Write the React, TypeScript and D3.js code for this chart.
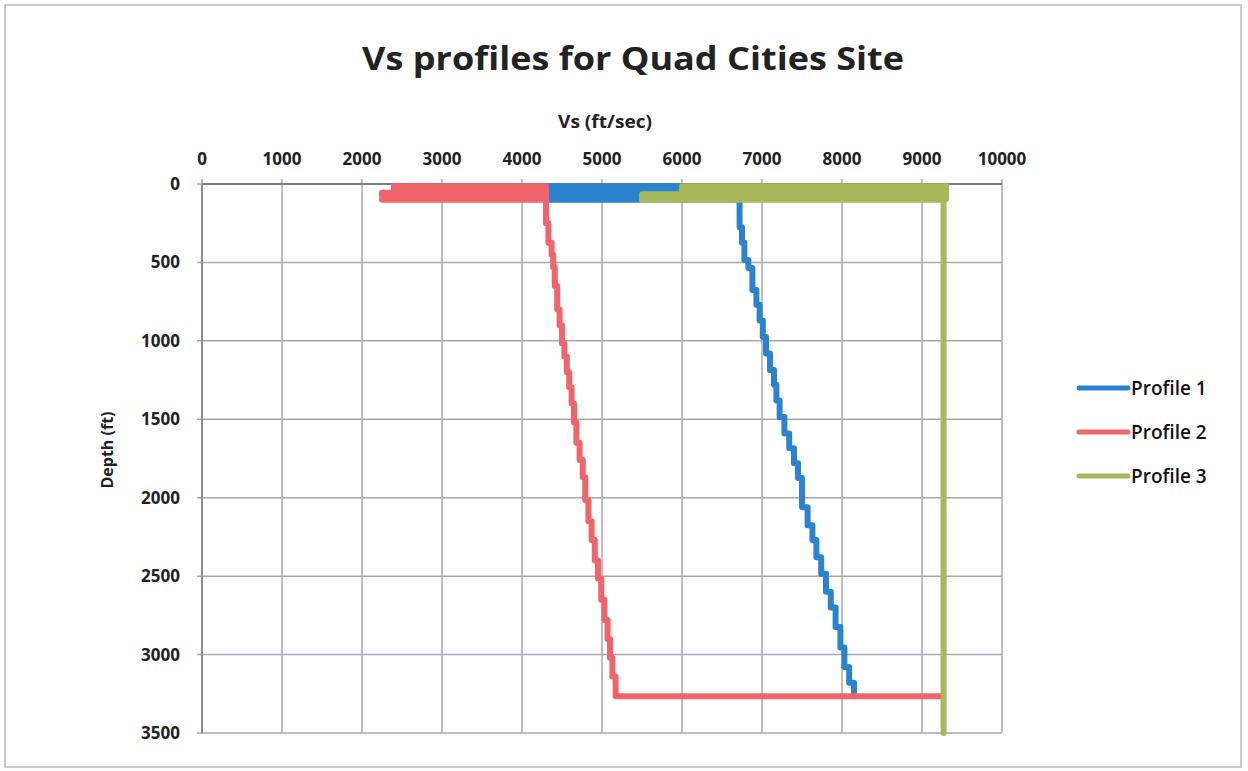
import React from "react";
import * as d3 from "d3";

const xTicks = [0, 1000, 2000, 3000, 4000, 5000, 6000, 7000, 8000, 9000, 10000];
const yTicks = [0, 500, 1000, 1500, 2000, 2500, 3000, 3500];
const seriesNames = ["Profile 1", "Profile 2", "Profile 3"];
const seriesColors = ["#2b83cf", "#f2646b", "#a8b85a"];

// [depth (ft), Vs (ft/sec)] vertices of each step profile
const profile1: [number, number][] = [
  [15, 6050], [15, 4300], [35, 4300], [35, 6050], [55, 6050], [55, 4300],
  [75, 4300], [75, 5500], [95, 5500], [95, 4300], [100, 4300], [100, 6720],
  [275, 6720], [275, 6750], [375, 6750], [375, 6780], [485, 6780], [485, 6830],
  [535, 6830], [535, 6880], [675, 6880], [675, 6930], [770, 6930], [770, 6970],
  [870, 6970], [870, 7010], [975, 7010], [975, 7050], [1080, 7050], [1080, 7100],
  [1185, 7100], [1185, 7150], [1280, 7150], [1280, 7180], [1380, 7180], [1380, 7220],
  [1485, 7220], [1485, 7280], [1590, 7280], [1590, 7340], [1685, 7340], [1685, 7400],
  [1780, 7400], [1780, 7450], [1875, 7450], [1875, 7500], [2060, 7500], [2060, 7570],
  [2175, 7570], [2175, 7630], [2270, 7630], [2270, 7680], [2380, 7680], [2380, 7740],
  [2485, 7740], [2485, 7800], [2600, 7800], [2600, 7860], [2700, 7860], [2700, 7920],
  [2825, 7920], [2825, 7980], [2955, 7980], [2955, 8030], [3080, 8030], [3080, 8090],
  [3180, 8090], [3180, 8150], [3265, 8150],
];

const profile2: [number, number][] = [
  [15, 4300], [15, 2400], [35, 2400], [35, 4300], [55, 4300], [55, 2250],
  [75, 2250], [75, 4300], [95, 4300], [95, 2250], [100, 2250], [100, 4300],
  [250, 4300], [250, 4330], [375, 4330], [375, 4370], [450, 4370], [450, 4390],
  [530, 4390], [530, 4410], [650, 4410], [650, 4440], [800, 4440], [800, 4470],
  [900, 4470], [900, 4500], [1015, 4500], [1015, 4530], [1100, 4530], [1100, 4560],
  [1200, 4560], [1200, 4590], [1295, 4590], [1295, 4620], [1400, 4620], [1400, 4650],
  [1520, 4650], [1520, 4680], [1650, 4680], [1650, 4720], [1760, 4720], [1760, 4760],
  [1870, 4760], [1870, 4790], [2015, 4790], [2015, 4830], [2150, 4830], [2150, 4870],
  [2270, 4870], [2270, 4910], [2400, 4910], [2400, 4950], [2515, 4950], [2515, 4990],
  [2650, 4990], [2650, 5030], [2780, 5030], [2780, 5070], [2900, 5070], [2900, 5100],
  [3020, 5100], [3020, 5130], [3140, 5130], [3140, 5170], [3265, 5170], [3265, 9240],
];

const profile3: [number, number][] = [
  [15, 6000], [15, 9300], [35, 9300], [35, 6000], [50, 6000], [50, 9300],
  [65, 9300], [65, 5500], [80, 5500], [80, 9300], [95, 9300], [95, 5500],
  [100, 5500], [100, 9270], [3500, 9270],
];

const profiles = [profile1, profile2, profile3];

export default function App() {
  const W = 1248, H = 771;
  const left = 202, right = 1002, top = 184, bottom = 733;
  const x = d3.scaleLinear().domain([0, 10000]).range([left, right]);
  const y = d3.scaleLinear().domain([0, 3500]).range([top, bottom]);
  const line = d3.line<[number, number]>().x((d) => x(d[1])).y((d) => y(d[0]));
  const font = "'Open Sans', 'Noto Sans', sans-serif";
  const gridColor = "#a9a6b4";

  return (
    <svg width={W} height={H} style={{ position: "absolute", left: 0, top: 0, background: "#fff" }}>
      <rect x={0} y={0} width={W} height={H} fill="#fdfdfd" />
      <rect x={5} y={5} width={1236} height={762} fill="#fff" stroke="#b8b8b8" strokeWidth={1.5} />
      <text x={633} y={70} textAnchor="middle" fontFamily={font} fontWeight="bold" fontSize={33}
        fill="#222" textLength={542} lengthAdjust="spacingAndGlyphs">
        Vs profiles for Quad Cities Site
      </text>
      <text x={605} y={128} textAnchor="middle" fontFamily={font} fontWeight="bold" fontSize={17}
        fill="#222" textLength={94} lengthAdjust="spacingAndGlyphs">
        Vs (ft/sec)
      </text>
      {/* grid */}
      {xTicks.map((t) => (
        <g key={"x" + t}>
          <line x1={x(t)} x2={x(t)} y1={top - 5} y2={bottom} stroke={gridColor} strokeWidth={1.5} />
          <text x={x(t)} y={165} textAnchor="middle" fontFamily={font} fontWeight="bold"
            fontSize={17} fill="#222">{t}</text>
        </g>
      ))}
      {yTicks.map((t) => (
        <g key={"y" + t}>
          <line x1={left - 5} x2={right} y1={y(t)} y2={y(t)} stroke={gridColor} strokeWidth={1.5} />
          <text x={180} y={y(t) + 6} textAnchor="end" fontFamily={font} fontWeight="bold"
            fontSize={17} fill="#222">{t}</text>
        </g>
      ))}
      <line x1={left} x2={right} y1={top} y2={top} stroke="#7e7e88" strokeWidth={2} />
      <line x1={left} x2={left} y1={top} y2={bottom} stroke="#8a8a94" strokeWidth={2} />
      <text transform={`translate(113,450) rotate(-90)`} textAnchor="middle" fontFamily={font}
        fontWeight="bold" fontSize={16} fill="#222">Depth (ft)</text>
      {/* profiles */}
      {profiles.map((p, i) => (
        <path key={i} d={line(p) || ""} fill="none" stroke={seriesColors[i]} strokeWidth={6}
          strokeLinejoin="round" strokeLinecap="round" />
      ))}
      {/* legend */}
      {seriesNames.map((n, i) => (
        <g key={n}>
          <line x1={1079} x2={1128} y1={388 + i * 44} y2={388 + i * 44} stroke={seriesColors[i]}
            strokeWidth={5} strokeLinecap="round" />
          <text x={1131} y={395 + i * 44} fontFamily={font} fontWeight={600} fontSize={19}
            fill="#111">{n}</text>
        </g>
      ))}
    </svg>
  );
}
